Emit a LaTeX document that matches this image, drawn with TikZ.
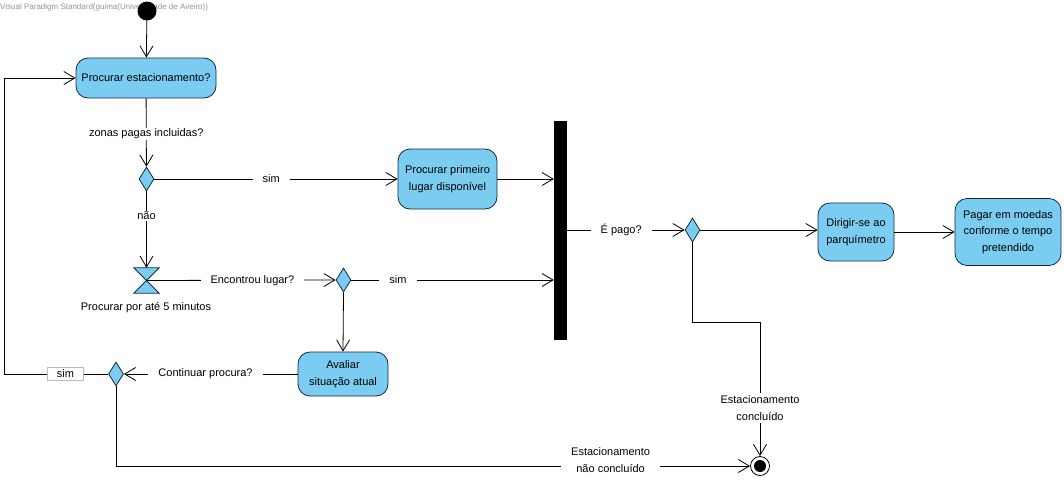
\documentclass[tikz,border=0pt]{standalone}
\usepackage{fontspec}
\setmainfont{Liberation Sans}
\usetikzlibrary{arrows.meta,shapes.geometric}
\definecolor{actfill}{RGB}{122,204,240}
\definecolor{actline}{RGB}{20,40,70}
\begin{document}
\begin{tikzpicture}[x=1pt,y=-1pt,
  font=\fontsize{11}{16.5}\selectfont,
  flow/.style={draw=black,line width=0.8pt,-{Straight Barb[length=11pt,width=13pt,line width=0.8pt]}},
  plain/.style={draw=black,line width=0.8pt},
  action/.style={draw=actline,fill=actfill,line width=0.8pt,rounded corners=12pt,align=center,inner sep=2pt},
  decision/.style={shape=diamond,draw=actline,fill=actfill,line width=0.8pt,minimum width=15pt,minimum height=24pt,inner sep=0pt},
  lbl/.style={fill=white,inner xsep=10pt,inner ysep=1pt,align=center},
  simbox/.style={fill=white,draw=gray!55,line width=0.6pt,minimum width=36pt,minimum height=13pt,inner sep=0pt}]
\useasboundingbox (0,0) rectangle (1064,482);

% header text
\node[anchor=west,text=gray!85,font=\fontsize{8}{9}\selectfont,inner sep=0pt] (hdr) at (0,7) {Visual Paradigm Standard(guima(Universidade de Aveiro))};

% start and end
\node[circle,fill=black,minimum size=19pt,inner sep=0pt] (start) at (147,11) {};
\node[circle,draw=black,fill=white,line width=0.8pt,minimum size=19pt,inner sep=0pt] (fin) at (760,466) {};
\node[circle,fill=black,minimum size=12pt,inner sep=0pt] (finin) at (fin.center) {};

% actions
\node[action,minimum width=140pt,minimum height=40pt] (a1) at (146,78) {Procurar estacionamento?};
\node[action,minimum width=99pt,minimum height=60pt] (a2) at (447.5,179) {Procurar primeiro\\lugar disponível};
\node[action,minimum width=90pt,minimum height=44pt] (a3) at (343,374) {Avaliar\\situação atual};
\node[action,minimum width=76pt,minimum height=58pt] (a4) at (856,232) {Dirigir-se ao\\parquímetro};
\node[action,minimum width=106pt,minimum height=67pt] (a5) at (1008,232) {Pagar em moedas\\conforme o tempo\\pretendido};

% decisions
\node[decision] (d1) at (146.5,179) {};
\node[decision] (d2) at (343.5,280) {};
\node[decision] (d3) at (116,374) {};
\node[decision] (d4) at (692.5,230) {};

% join bar
\node[fill=black,minimum width=13pt,minimum height=219pt,inner sep=0pt] (bar) at (560.5,230.5) {};

% time event (hourglass)
\node[minimum width=25pt,minimum height=25pt,inner sep=0pt] (hg) at (146.5,280.5) {};
\draw[actline,fill=actfill,line width=0.8pt] (hg.north west) -- (hg.north east) -- (hg.south west) -- (hg.south east) -- cycle;
\node[anchor=north] (hglbl) at (146,299) {Procurar por até 5 minutos};

% loop corners
\coordinate (cl) at (4,374);
\coordinate (cr) at (760,322);

% flows
\draw[flow] (start) -- (a1);
\draw[flow] (a1) -- node[lbl,pos=0.52]{zonas pagas incluidas?} (d1);
\draw[flow] (d1.east) -- node[lbl,pos=0.48]{sim} (a2.west);
\draw[flow] (d1.south) -- node[lbl,pos=0.32]{não} (hg.north);
\draw[flow] (hg.center) -- node[lbl,pos=0.56]{Encontrou lugar?} (d2.west);
\draw[flow] (a2.east) -- (a2.east -| bar.west);
\draw[flow] (d2.east) -- node[lbl,pos=0.23]{sim} (d2.east -| bar.west);
\draw[flow] (d2.south) -- (a3.north);
\draw[flow] (a3.west) -- node[lbl,pos=0.53]{Continuar procura?} (d3.east);
\draw[flow] (d3.west) -- node[simbox,pos=0.41]{sim} (cl) |- (a1.west);
\draw[flow] (d3.south) |- node[lbl,pos=0.89,yshift=6pt]{Estacionamento\\não concluído} (fin.west);
\draw[flow] (bar.east |- d4.west) -- node[lbl,pos=0.46]{É pago?} (d4.west);
\draw[flow] (d4.east) -- (d4.east -| a4.west);
\draw[flow] (a4.east) -- (a5.west);
\draw[flow] (d4.south) |- (cr) -- node[lbl,pos=0.64,inner xsep=3pt,inner ysep=3pt]{Estacionamento\\concluído} (fin.north);
\end{tikzpicture}
\end{document}
